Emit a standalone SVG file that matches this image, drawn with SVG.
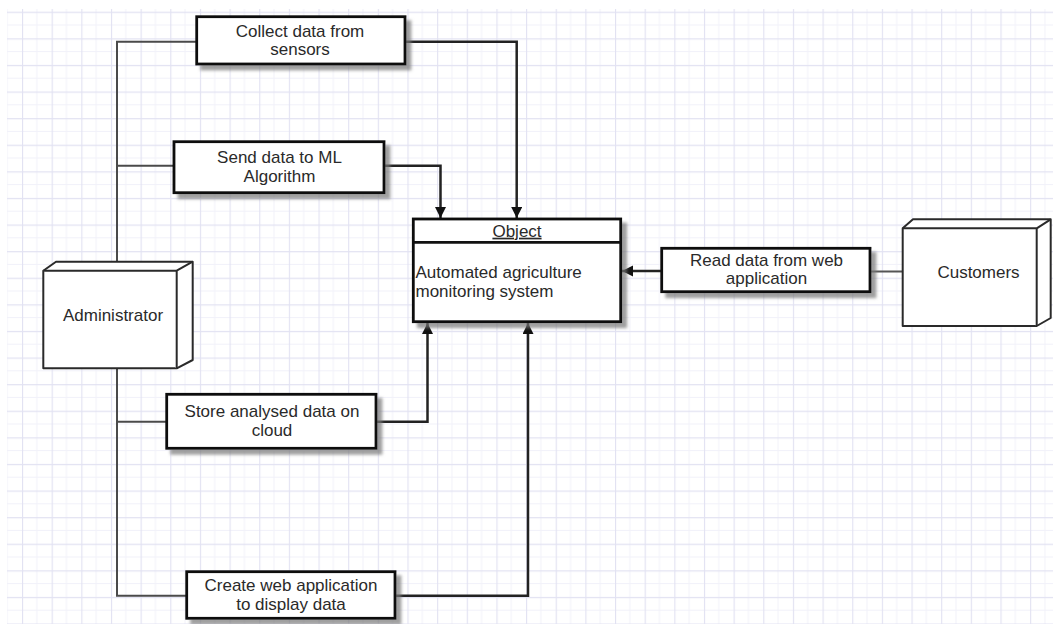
<svg xmlns="http://www.w3.org/2000/svg" width="1053" height="624" viewBox="0 0 1053 624">
<style>
.box{fill:#fff;stroke:#111;stroke-width:2.8}
.shad{filter:url(#sh)}
.node3d{fill:#fff;stroke:#2a2a2a;stroke-width:2;stroke-linejoin:round}
.t{font-family:"Liberation Sans",Arial,sans-serif;font-size:17px;fill:#2a2a2a}
.c{text-anchor:middle}
.lnA{fill:none;stroke:#4a4a4a;stroke-width:2}
.lnB{fill:none;stroke:#222;stroke-width:2.5;marker-end:url(#ah)}
.lnC{fill:none;stroke:#555;stroke-width:2}
</style>
<defs>
<pattern id="grid" patternUnits="userSpaceOnUse" x="22" y="11.7" width="29.65" height="26.6">
<path d="M14.8 0V26.6M0 13.3H29.65" stroke="#f1f1f9" stroke-width="1" fill="none"/>
<path d="M0.5 0V26.6M0 0.5H29.65" stroke="#e2e2f2" stroke-width="1.3" fill="none"/>
</pattern>
<filter id="sh" x="-10%" y="-20%" width="130%" height="150%">
<feDropShadow dx="5" dy="5" stdDeviation="1.8" flood-color="#777" flood-opacity="0.7"/>
</filter>
<marker id="ah" markerUnits="userSpaceOnUse" markerWidth="12" markerHeight="12" refX="11" refY="5.5" orient="auto">
<path d="M0,0 L11,5.5 L0,11 Z" fill="#111"/>
</marker>
</defs>
<rect width="1053" height="624" fill="#fff"/>
<rect x="7" y="9" width="1046" height="615" fill="url(#grid)"/>

<g id="connectors">
<polyline class="lnA" points="117,262 117,41.7 197,41.7"/>
<polyline class="lnB" points="405,41.7 516.7,41.7 516.7,218"/>
<polyline class="lnA" points="117,165.7 174,165.7"/>
<polyline class="lnB" points="384,165.7 440.5,165.7 440.5,218"/>
<polyline class="lnA" points="117,368 117,595.7 187,595.7"/>
<polyline class="lnA" points="117,421.7 167,421.7"/>
<polyline class="lnB" points="376,421.7 427.5,421.7 427.5,323"/>
<polyline class="lnB" points="395,595.7 528,595.7 528,323"/>
<polyline class="lnB" points="661.7,271 622,271"/>
<polyline class="lnC" points="902.7,271.5 870,271.5"/>
</g>

<g id="administrator">
<path class="node3d" d="M43.3,270.7 L56,261.7 L192.7,261.7 L192.7,360 L176.7,368.3 L43.3,368.3 Z"/>
<path class="node3d" d="M43.3,270.7 L176.7,270.7 L176.7,368.3 M176.7,270.7 L192.7,261.7"/>
<text class="t c" x="113" y="321">Administrator</text>
</g>

<g id="collect">
<rect class="box shad" x="196.7" y="16.7" width="208.3" height="47.3"/>
<text class="t c" x="300" y="36.5">Collect data from</text>
<text class="t c" x="300" y="55.3">sensors</text>
</g>

<g id="send">
<rect class="box shad" x="174" y="141.7" width="210" height="51"/>
<text class="t c" x="279.5" y="163">Send data to ML</text>
<text class="t c" x="279.5" y="182">Algorithm</text>
</g>

<g id="object">
<rect class="box shad" x="413.3" y="219" width="207.4" height="102.7"/>
<line x1="413.3" y1="242.3" x2="620.7" y2="242.3" stroke="#111" stroke-width="2.8"/>
<text class="t c" x="517" y="236.7" text-decoration="underline">Object</text>
<text class="t" x="415.5" y="278">Automated agriculture</text>
<text class="t" x="415.5" y="297">monitoring system</text>
</g>

<g id="read">
<rect class="box shad" x="661.7" y="248.3" width="208.3" height="43.4"/>
<text class="t c" x="766.5" y="265.5">Read data from web</text>
<text class="t c" x="766.5" y="284.3">application</text>
</g>

<g id="customers">
<path class="node3d" d="M902.7,228.3 L913,219.3 L1050.7,219.3 L1050.7,318 L1036.7,326 L902.7,326 Z"/>
<path class="node3d" d="M902.7,228.3 L1036.7,228.3 L1036.7,326 M1036.7,228.3 L1050.7,219.3"/>
<text class="t c" x="978.5" y="278.3">Customers</text>
</g>

<g id="store">
<rect class="box shad" x="166.7" y="394.3" width="209.3" height="54"/>
<text class="t c" x="272" y="417">Store analysed data on</text>
<text class="t c" x="272" y="435.8">cloud</text>
</g>

<g id="create">
<rect class="box shad" x="186.7" y="571.7" width="208.3" height="46.6"/>
<text class="t c" x="291" y="590.8">Create web application</text>
<text class="t c" x="291" y="609.6">to display data</text>
</g>
</svg>
